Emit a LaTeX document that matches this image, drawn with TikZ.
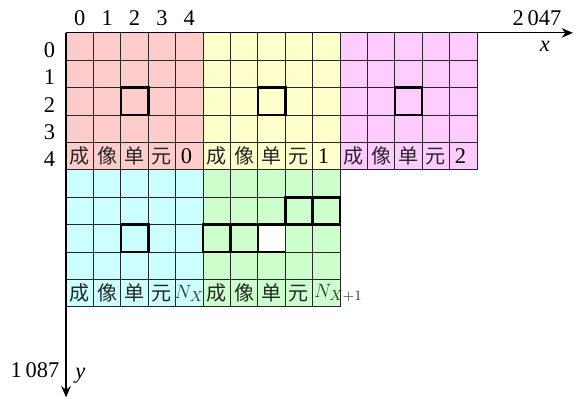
\documentclass[tikz,border=0pt]{standalone}
\usepackage{fontspec}
\setmainfont{Liberation Serif}
\newfontfamily\cjk{Noto Sans CJK SC}
\usetikzlibrary{arrows.meta}
\definecolor{cellred}{RGB}{255,204,204}
\definecolor{cellyellow}{RGB}{255,255,204}
\definecolor{cellpink}{RGB}{255,204,255}
\definecolor{cellcyan}{RGB}{204,255,255}
\definecolor{cellgreen}{RGB}{204,255,204}
\begin{document}
\begin{tikzpicture}[x=0.6cm, y=-0.6cm,
    gridline/.style={draw=black!85, line width=0.6pt},
    boldcell/.style={draw=black, line width=1.6pt},
    axis/.style={draw=black, line width=0.7pt, -{Stealth[length=7pt, width=6pt]}},
    lab/.style={font=\fontsize{14}{14}\selectfont, inner sep=0pt},
    sub/.style={font=\fontsize{12.5}{12.5}\selectfont, inner sep=0pt, text=black!80},
    cn/.style={font=\cjk\fontsize{12.5}{12.5}\selectfont, inner sep=0pt, text=black!85}]
    \useasboundingbox (-2.41,-1.2) rectangle (18.54,13.36);
    % Blocs
    \fill[cellred] (0,0) rectangle (5,5);
    \fill[cellyellow] (5,0) rectangle (10,5);
    \fill[cellpink] (10,0) rectangle (15,5);
    \fill[cellcyan] (0,5) rectangle (5,10);
    \fill[cellgreen] (5,5) rectangle (10,10);
    \fill[white] (7,7) rectangle (8,8);
    % Grille
    \foreach \i in {0,...,15} \draw[gridline] (\i,0) -- (\i,5);
    \foreach \i in {0,...,10} \draw[gridline] (\i,5) -- (\i,10);
    \foreach \j in {1,...,5} \draw[gridline] (0,\j) -- (15,\j);
    \foreach \j in {6,...,10} \draw[gridline] (0,\j) -- (10,\j);
    % Cases en gras
    \foreach \c in {2,7,12} \draw[boldcell] (\c,2) rectangle ++(1,1);
    \draw[boldcell] (2,7) rectangle ++(1,1);
    \draw[boldcell] (5,7) rectangle ++(1,1);
    \draw[boldcell] (6,7) rectangle ++(1,1);
    \draw[boldcell] (7,7) -- (8,7) (7,8) -- (8,8);
    \draw[boldcell] (8,6) rectangle ++(1,1);
    \draw[boldcell] (9,6) rectangle ++(1,1);
    % Unites
    \foreach \bx/\by in {0/4, 5/4, 10/4, 0/9, 5/9}
        \foreach \ch [count=\k from 0] in {成,像,单,元}
            \node[cn] (u\bx-\by-\k) at (\bx+\k+0.5,\by+0.5) {\ch};
    \node[lab] (n0) at (4.4,4.5) {0};
    \node[lab] (n1) at (9.4,4.5) {1};
    \node[lab] (n2) at (14.4,4.5) {2};
    \node[sub] (nx) at (4.5,9.5) {$N_X$};
    \node[sub, anchor=west] (nx1) at (9.05,9.5) {$N_{X+1}$};
    % Indices
    \foreach \i in {0,...,4} {
        \node[lab] (col\i) at (\i+0.5,-0.55) {\i};
        \node[lab] (row\i) at (-0.6,\i+0.62) {\i};
    }
    % Axes
    \coordinate (o) at (0,0);
    \coordinate (xend) at (18.5,0);
    \coordinate (yend) at (0,13.3);
    \draw[axis] (o) -- (xend);
    \draw[axis] (o) -- (yend);
    \node[lab] (xmax) at (17.19,-0.55) {2\,047};
    \node[lab] (xlab) at (17.48,0.5) {\textit{x}};
    \node[lab] (ymax) at (-1.13,12.3) {1\,087};
    \node[lab] (ylab) at (0.52,12.5) {\textit{y}};
\end{tikzpicture}
\end{document}
